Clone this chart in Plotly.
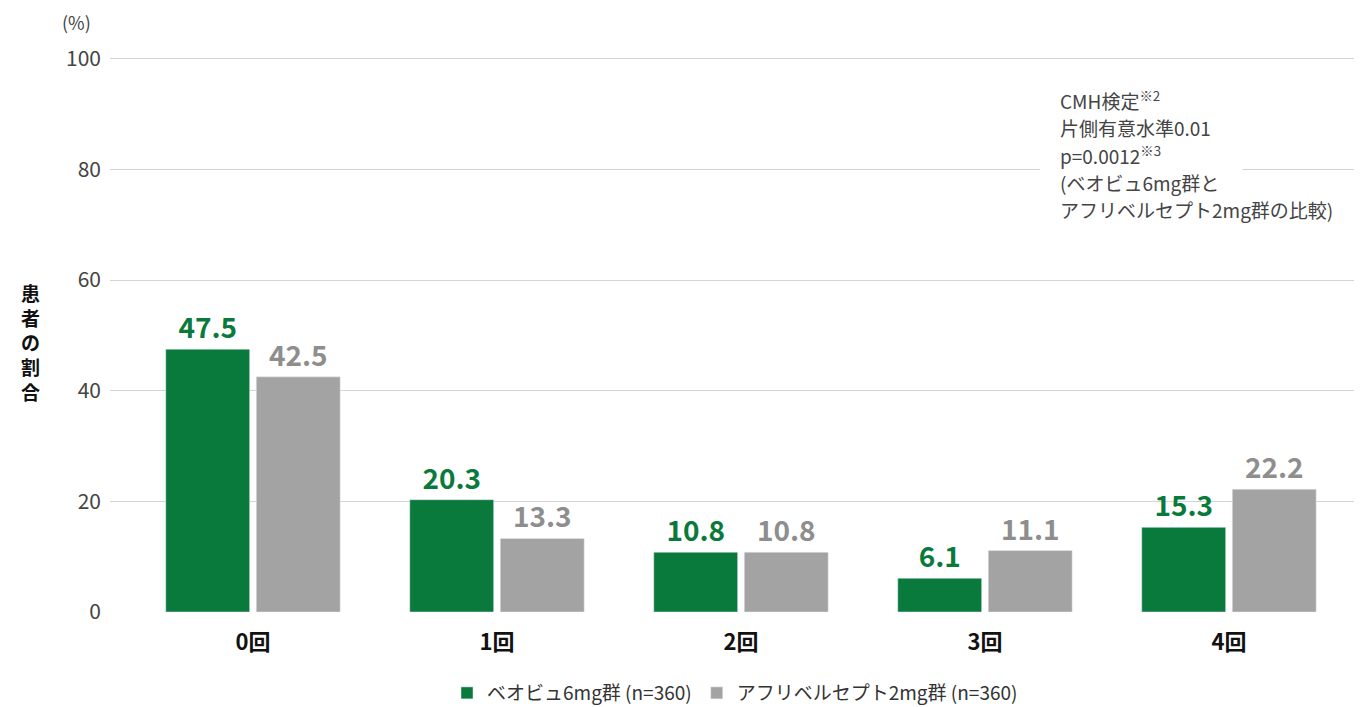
import plotly.graph_objects as go

categories = ["0回", "1回", "2回", "3回", "4回"]
beovu = [47.5, 20.3, 10.8, 6.1, 15.3]
aflibercept = [42.5, 13.3, 10.8, 11.1, 22.2]
series_names = ["ベオビュ6mg群 (n=360)", "アフリベルセプト2mg群 (n=360)"]
yticks = [0, 20, 40, 60, 80, 100]
note_lines = [
    "CMH検定<sup>※2</sup>",
    "片側有意水準0.01",
    "p=0.0012<sup>※3</sup>",
    "(ベオビュ6mg群と",
    "アフリベルセプト2mg群の比較)",
]

GREEN = "#0a7a3c"
GRAY = "#a3a3a3"
FONT = "Noto Sans CJK JP"

xs = list(range(len(categories)))

fig = go.Figure()
fig.add_trace(go.Bar(
    x=xs, y=beovu, name=series_names[0], marker_color=GREEN,
    text=[f"{v:.1f}" for v in beovu], textposition="outside",
    textfont=dict(size=28, color=GREEN, family=FONT, weight="bold"),
    cliponaxis=False,
))
fig.add_trace(go.Bar(
    x=xs, y=aflibercept, name=series_names[1], marker_color=GRAY,
    text=[f"{v:.1f}" for v in aflibercept], textposition="outside",
    textfont=dict(size=28, color="#8e8e8e", family=FONT, weight="bold"),
    cliponaxis=False,
))

# the page body adds an 8px offset; margins compensate for it
fig.update_layout(
    width=1362, height=707,
    margin=dict(l=102, r=10, t=49, b=103, autoexpand=False),
    paper_bgcolor="white", plot_bgcolor="white",
    font=dict(family=FONT, color="#444"),
    barmode="group", bargap=0.258, bargroupgap=0.073,
    showlegend=True,
    legend=dict(orientation="h", x=0.5, xanchor="center", xref="paper",
                y=-0.146, yanchor="middle", font=dict(size=19, color="#333"),
                traceorder="normal"),
    xaxis=dict(
        range=[-0.586, 4.537], tickvals=xs, ticktext=categories,
        showgrid=False, zeroline=False, showline=False, ticks="",
        tickfont=dict(size=22, color="#111", family=FONT, weight="bold"),
        ticklabelstandoff=15, automargin=False,
    ),
    yaxis=dict(
        range=[0, 100.3], tickvals=yticks, showgrid=True, gridcolor="#d4d4d4",
        gridwidth=1, zeroline=False, showline=False, ticks="",
        tickfont=dict(size=21, color="#444"), ticklabelstandoff=8,
        automargin=False,
    ),
)

# white patch interrupting the 80 gridline behind the note
fig.add_shape(type="rect", xref="paper", yref="y", x0=0.744, x1=0.906,
              y0=78.5, y1=81.5, fillcolor="white", line_width=0, layer="above")

for i, line in enumerate(note_lines):
    fig.add_annotation(
        xref="paper", yref="paper", x=0.7584, y=0.9225 - i * 0.0495,
        xanchor="left", yanchor="middle", align="left", showarrow=False,
        text=line, font=dict(size=19, color="#444", family=FONT),
    )

fig.add_annotation(
    xref="paper", yref="paper", x=-0.027, y=1.063, xanchor="center", yanchor="middle",
    text="(%)", showarrow=False, font=dict(size=18, color="#444", family=FONT),
)
fig.add_annotation(
    xref="paper", yref="y", x=-0.064, y=48.8, xanchor="center", yanchor="middle",
    text="患<br>者<br>の<br>割<br>合", showarrow=False,
    font=dict(size=19, color="#111", family=FONT, weight="bold"),
)

fig.write_html("out.html")
